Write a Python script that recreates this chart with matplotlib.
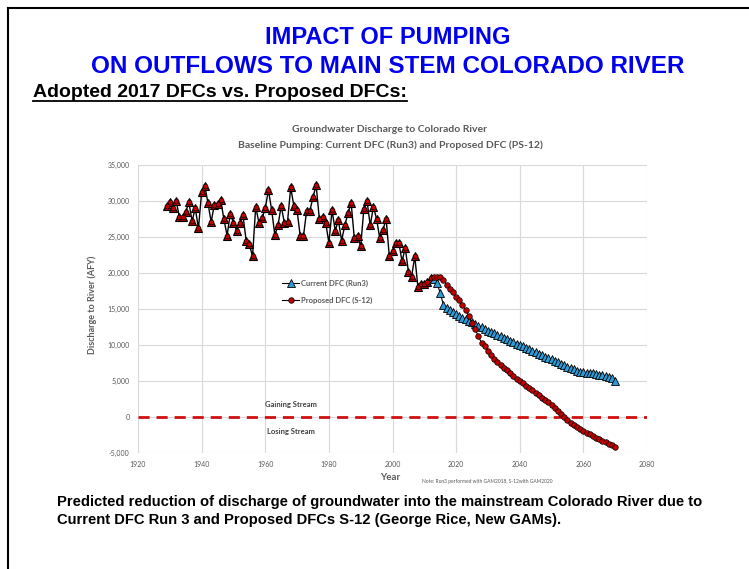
import matplotlib
matplotlib.use("Agg")
from matplotlib import pyplot as plt
from matplotlib.lines import Line2D
import numpy as np

# 历史段 (两个方案相同)
hist_years = list(range(1929, 2013))
hist_vals = [29300, 29900, 29000, 30000, 27800, 27800, 28500, 29800, 27200, 29000,
             26200, 31200, 32100, 29700, 27100, 29500, 29600, 30100, 27500, 25200,
             28200, 27000, 25900, 26900, 28000, 24500, 24000, 22300, 29200, 27000,
             27600, 29000, 31500, 28800, 25300, 26600, 29300, 27000, 27100, 31900,
             29300, 28700, 25100, 25100, 28600, 28600, 30500, 32200, 27500, 27800,
             27000, 24200, 28700, 25900, 27300, 24500, 26600, 28300, 29700, 24800,
             25200, 23700, 28900, 30000, 26600, 29200, 27500, 24800, 26000, 27500,
             22300, 23000, 24200, 24200, 21600, 23500, 20200, 19500, 22300, 18000,
             18500, 18500, 18800, 19300]

# 预测段
fut_years = list(range(2013, 2071))
run3_vals = [19200, 18600, 17200, 15600, 15200, 14900, 14600, 14300, 14000, 13800,
             13600, 13400, 13200, 12900, 12700, 12500, 12200, 12000, 11800, 11600,
             11400, 11200, 11000, 10800, 10600, 10400, 10200, 10000, 9800, 9600,
             9400, 9200, 9000, 8800, 8600, 8400, 8200, 8000, 7800, 7600,
             7400, 7200, 7000, 6800, 6600, 6400, 6250, 6200, 6150, 6100,
             6050, 6000, 5900, 5800, 5700, 5600, 5400, 5000]
s12_vals = [19500, 19500, 19400, 19000, 18400, 17800, 17300, 16700, 16200, 15500,
            14800, 14000, 13100, 12200, 11200, 10300, 9800, 9200, 8600, 8100,
            7600, 7200, 6800, 6500, 6100, 5700, 5300, 5000, 4700, 4300,
            4000, 3700, 3400, 3100, 2700, 2400, 2100, 1700, 1300, 900,
            400, 0, -400, -800, -1100, -1400, -1700, -2000, -2200, -2400,
            -2700, -2900, -3100, -3300, -3500, -3700, -3900, -4100]

blue = '#2e9bd6'
red = '#c00000'
gray = '#595959'
cfont = 'Lato'
tfont = 'Liberation Sans'

fig = plt.figure(figsize=(7.49, 5.69), dpi=100)
fig.patch.set_facecolor('white')

# 幻灯片边框
fig.add_artist(Line2D([8/749, 1], [1-8/569, 1-8/569], color='black', lw=1.5))
fig.add_artist(Line2D([8/749, 8/749], [0, 1-8/569], color='black', lw=1.5))

fig.text(388/749, 1-38/569, 'IMPACT OF PUMPING', ha='center', va='center',
         color='#0000ee', fontsize=17, fontweight='bold', family=tfont)
fig.text(388/749, 1-66/569, 'ON OUTFLOWS TO MAIN STEM COLORADO RIVER', ha='center', va='center',
         color='#0000ee', fontsize=17.5, fontweight='bold', family=tfont)
sub = fig.text(33/749, 1-97/569, 'Adopted 2017 DFCs vs. Proposed DFCs:', ha='left', va='baseline',
               color='black', fontsize=14, fontweight='bold', family=tfont)
fig.canvas.draw()
bb = sub.get_window_extent().transformed(fig.transFigure.inverted())
fig.add_artist(Line2D([bb.x0, bb.x1], [1-101/569, 1-101/569], color='black', lw=1.3))

fig.text(390/749, 1-130/569, 'Groundwater Discharge to Colorado River', ha='center', va='center',
         color=gray, fontsize=7.5, fontweight='bold', family=cfont)
fig.text(390/749, 1-145/569, 'Baseline Pumping: Current DFC (Run3) and Proposed DFC (PS-12)',
         ha='center', va='center', color=gray, fontsize=7.5, fontweight='bold', family=cfont)

ax = fig.add_axes([138/749, 1-453/569, 509/749, 288/569])
ax.set_xlim(1920, 2080)
ax.set_ylim(-5000, 35000)
ax.set_xticks(np.arange(1920, 2081, 20))
ax.set_yticks(np.arange(-5000, 35001, 5000))
ax.set_yticklabels(['{:,}'.format(v) for v in range(-5000, 35001, 5000)])
ax.tick_params(length=0, labelsize=5, labelcolor=gray, pad=6)
for lab in ax.get_xticklabels() + ax.get_yticklabels():
    lab.set_family(cfont)
for s in ax.spines.values():
    s.set_visible(False)
ax.grid(True, color='#d9d9d9', lw=0.8)
ax.set_axisbelow(True)

ax.axhline(0, color='#d01010', lw=2, ls=(0, (4, 2.5)), zorder=2)

ax.plot(hist_years, hist_vals, color='black', lw=1, marker='^', ms=6,
        mfc=red, mec='black', mew=0.8, zorder=3)
ax.plot(hist_years, hist_vals, color='black', lw=0, marker='o', ms=3.5,
        mfc=red, mec='black', mew=0.5, zorder=4)
ax.plot(fut_years, run3_vals, color='black', lw=0.8, marker='^', ms=6,
        mfc=blue, mec='black', mew=0.6, zorder=3, label='Current DFC (Run3)')
ax.plot(fut_years, s12_vals, color='black', lw=0.8, marker='o', ms=4,
        mfc=red, mec='black', mew=0.5, zorder=4, label='Proposed DFC (S-12)')

leg = ax.legend(loc='upper left', bbox_to_anchor=(0.27, 0.625), frameon=False,
                prop={'family': cfont, 'size': 5.5, 'weight': 'bold'}, handlelength=2.2,
                labelspacing=1.3, handletextpad=0.2)
for t in leg.get_texts():
    t.set_color(gray)

ax.text(1968, 1700, 'Gaining Stream', ha='center', va='center', color='#404040',
        fontsize=5.5, fontweight='bold', family=cfont)
ax.text(1968, -2000, 'Losing Stream', ha='center', va='center', color='#404040',
        fontsize=5.5, fontweight='bold', family=cfont)

fig.text(92/749, 1-305/569, 'Discharge to River (AFY)', rotation=90, ha='center', va='center',
         color=gray, fontsize=6.5, fontweight='bold', family=cfont)
fig.text(390/749, 1-478/569, 'Year', ha='center', va='center',
         color=gray, fontsize=7, fontweight='bold', family=cfont)
fig.text(487/749, 1-481/569, 'Note: Run3 performed with GAM2018, S-12with GAM2020', ha='center',
         va='center', color=gray, fontsize=3.5, family=cfont)

fig.text(57/749, 1-502/569, 'Predicted reduction of discharge of groundwater into the mainstream Colorado River due to',
         ha='left', va='center', color='black', fontsize=10.6, fontweight='bold', family=tfont)
fig.text(57/749, 1-520/569, 'Current DFC Run 3 and Proposed DFCs S-12 (George Rice, New GAMs).',
         ha='left', va='center', color='black', fontsize=10.6, fontweight='bold', family=tfont)

fig.savefig('out.png', dpi=100)
